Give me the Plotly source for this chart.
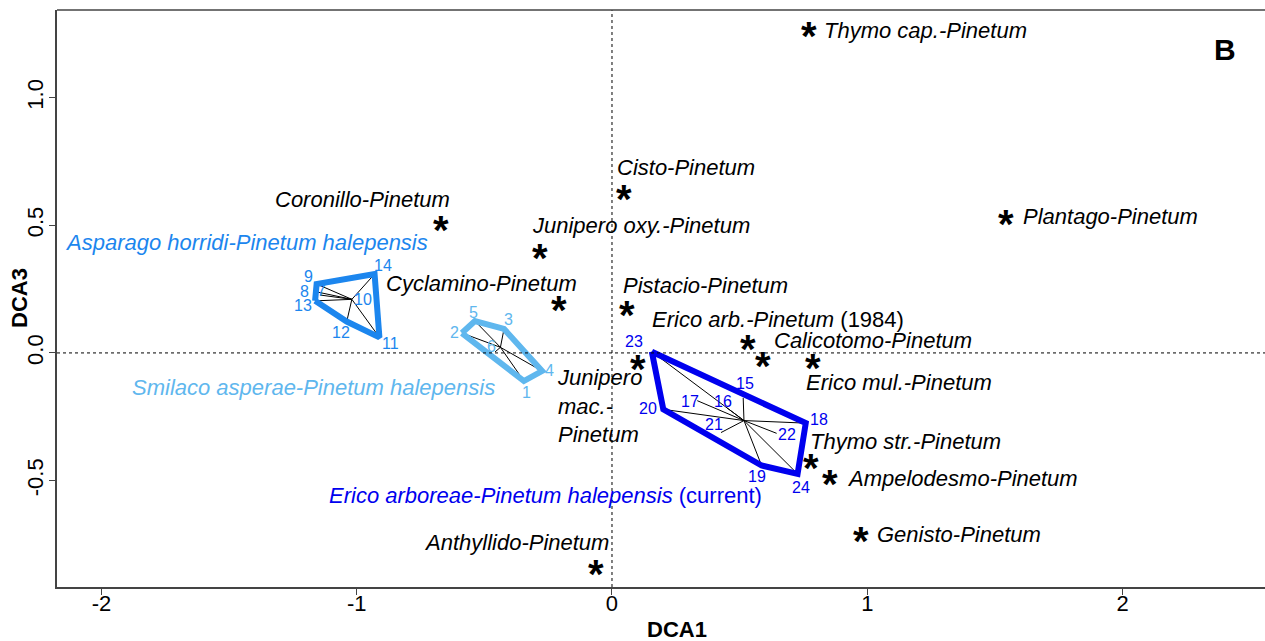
import plotly.graph_objects as go

FONT = "Liberation Sans, Arial, Helvetica, sans-serif"

# ---- published Pinus halepensis syntaxa (DCA1 / DCA3 scores) ----
syntaxa = [
    "Thymo cap.-Pinetum", "Plantago-Pinetum", "Coronillo-Pinetum",
    "Junipero oxy.-Pinetum", "Cisto-Pinetum", "Cyclamino-Pinetum",
    "Pistacio-Pinetum", "Erico arb.-Pinetum (1984)", "Calicotomo-Pinetum",
    "Erico mul.-Pinetum", "Junipero mac.-Pinetum", "Thymo str.-Pinetum",
    "Ampelodesmo-Pinetum", "Genisto-Pinetum", "Anthyllido-Pinetum",
]
syn_dca1 = [0.772, 1.543, -0.670, -0.282, 0.047, -0.208, 0.059, 0.533,
            0.591, 0.787, 0.102, 0.779, 0.854, 0.975, -0.063]
syn_dca3 = [1.265, 0.529, 0.505, 0.396, 0.627, 0.192, 0.172, 0.039,
            -0.027, -0.035, -0.039, -0.427, -0.490, -0.713, -0.842]

# ---- current relevés (DCA1 / DCA3 scores) and their association ----
plot_ids = list(range(1, 25))
plot_group = ["Smilaco"] * 6 + ["Asparago"] * 8 + ["Erico"] * 10
plot_dca1 = [-0.345, -0.588, -0.423, -0.274, -0.537, -0.458,
             -1.144, -1.156, -1.157, -1.020, -0.911, -1.039, -1.163, -0.930,
             0.514, 0.450, 0.334, 0.759, 0.586, 0.201, 0.427, 0.645, 0.156, 0.727]
plot_dca3 = [-0.110, 0.078, 0.094, -0.071, 0.125, 0.004,
             0.227, 0.239, 0.270, 0.210, 0.061, 0.123, 0.204, 0.309,
             -0.176, -0.215, -0.187, -0.275, -0.441, -0.221, -0.312, -0.315, 0.005, -0.474]

# weighted group centroids used for the spiders
groups = ["Asparago", "Smilaco", "Erico"]
centroid_dca1 = [-1.019, -0.437, 0.517]
centroid_dca3 = [0.210, 0.022, -0.265]

x_ticks = [-2, -1, 0, 1, 2]
y_ticks = [-0.5, 0.0, 0.5, 1.0]
y_tick_text = ["-0.5", "0.0", "0.5", "1.0"]

# ---- styling ----
group_color = {"Asparago": "#1C86EE", "Smilaco": "#5FB7EE", "Erico": "#0000EE"}
group_title = {
    "Asparago": "<i>Asparago horridi-Pinetum halepensis</i>",
    "Smilaco": "<i>Smilaco asperae-Pinetum halepensis</i>",
    "Erico": "<i>Erico arboreae-Pinetum halepensis</i> (current)",
}
# left end / middle of each association name, in axis units
group_title_pos = {"Asparago": (-2.150, 0.431), "Smilaco": (-1.888, -0.137),
                   "Erico": (-1.116, -0.560)}

# label placement for syntaxa: (xanchor, x shift px, y shift px)
syn_label_style = {
    "Thymo cap.-Pinetum": ("left", 13, 0),
    "Plantago-Pinetum": ("left", 15, 1),
    "Coronillo-Pinetum": ("right", 11, 25),
    "Junipero oxy.-Pinetum": ("left", -10, 26),
    "Cisto-Pinetum": ("left", -9, 25),
    "Cyclamino-Pinetum": ("right", 20, 20),
    "Pistacio-Pinetum": ("left", -6, 24),
    "Erico arb.-Pinetum (1984)": ("left", -98, 23),
    "Calicotomo-Pinetum": ("left", 9, 19),
    "Erico mul.-Pinetum": ("left", -9, -21),
    "Junipero mac.-Pinetum": ("left", -83, -43),
    "Thymo str.-Pinetum": ("left", -3, 20),
    "Ampelodesmo-Pinetum": ("left", 15, 0),
    "Genisto-Pinetum": ("left", 14, 0),
    "Anthyllido-Pinetum": ("right", 15, 25),
}
syn_label_text = {
    "Erico arb.-Pinetum (1984)": "<i>Erico arb.-Pinetum</i> (1984)",
    "Junipero mac.-Pinetum": "<i>Junipero<br>mac.-<br>Pinetum</i>",
}

# relevé number offsets (px, y up)
num_offset = {
    1: (3, -11), 2: (-7, 1), 3: (4, 9), 4: (7, 1), 5: (-1, 9), 6: (-4, 5),
    7: (2, 4), 8: (-12, 0), 9: (-8, 8), 10: (11, 0), 11: (11, -6),
    12: (-6, -11), 13: (-12, -5), 14: (8, 9),
    15: (2, 14), 16: (-4, 6), 17: (-7, -1), 18: (13, 4), 19: (-5, -11),
    20: (-15, 1), 21: (-7, 8), 22: (10, -1), 23: (-18, 10), 24: (3, -14),
}

X_RANGE = [-2.174, 2.558]
Y_RANGE = [-0.917, 1.3435]

# plot area in pixels (for paper-anchored texts)
W, H = 1265, 641
L, R, T, B = 57, 1265, 10, 587


def px_to_paper(px, py):
    return (px - L) / (R - L), 1 - (py - T) / (B - T)


def convex_hull(pts):
    pts = sorted(set(pts))
    if len(pts) < 3:
        return pts

    def cross(o, a, b):
        return (a[0] - o[0]) * (b[1] - o[1]) - (a[1] - o[1]) * (b[0] - o[0])

    lower, upper = [], []
    for p in pts:
        while len(lower) >= 2 and cross(lower[-2], lower[-1], p) <= 0:
            lower.pop()
        lower.append(p)
    for p in reversed(pts):
        while len(upper) >= 2 and cross(upper[-2], upper[-1], p) <= 0:
            upper.pop()
        upper.append(p)
    return lower[:-1] + upper[:-1]


fig = go.Figure()
annotations = []

for gi, g in enumerate(groups):
    idx = [i for i, pg in enumerate(plot_group) if pg == g]
    cx, cy = centroid_dca1[gi], centroid_dca3[gi]
    # spider
    sx, sy = [], []
    for i in idx:
        sx += [cx, plot_dca1[i], None]
        sy += [cy, plot_dca3[i], None]
    fig.add_trace(go.Scatter(x=sx, y=sy, mode="lines",
                             line=dict(color="black", width=1),
                             hoverinfo="skip", showlegend=False))
    # hull
    hull = convex_hull([(plot_dca1[i], plot_dca3[i]) for i in idx])
    hull.append(hull[0])
    fig.add_trace(go.Scatter(x=[p[0] for p in hull], y=[p[1] for p in hull],
                             mode="lines",
                             line=dict(color=group_color[g], width=6),
                             hoverinfo="skip", showlegend=False))
    # relevé numbers
    for i in idx:
        dx, dy = num_offset[plot_ids[i]]
        annotations.append(dict(
            x=plot_dca1[i], y=plot_dca3[i], text=str(plot_ids[i]),
            showarrow=False, xshift=dx, yshift=dy,
            xanchor="center", yanchor="middle",
            font=dict(family=FONT, size=16, color=group_color[g])))
    # association name
    tx, ty = group_title_pos[g]
    annotations.append(dict(
        x=tx, y=ty, text=group_title[g], showarrow=False,
        xanchor="left", yanchor="middle",
        font=dict(family=FONT, size=22, color=group_color[g])))

# syntaxa: asterisks and names
for name, sx_, sy_ in zip(syntaxa, syn_dca1, syn_dca3):
    annotations.append(dict(
        x=sx_, y=sy_, text="<b>*</b>", showarrow=False, yshift=-6,
        xanchor="center", yanchor="middle",
        font=dict(family=FONT, size=40, color="black")))
    anchor, dx, dy = syn_label_style[name]
    annotations.append(dict(
        x=sx_, y=sy_, text=syn_label_text.get(name, "<i>%s</i>" % name),
        showarrow=False, xanchor=anchor, yanchor="middle", align="left",
        xshift=dx, yshift=dy,
        font=dict(family=FONT, size=22, color="black")))

# panel letter and axis titles
bx, by = px_to_paper(1225, 50)
annotations.append(dict(x=bx, y=by, xref="paper", yref="paper", text="<b>B</b>",
                        showarrow=False, xanchor="center", yanchor="middle",
                        font=dict(family=FONT, size=30, color="black")))
ax_, ay_ = px_to_paper(677, 629)
annotations.append(dict(x=ax_, y=ay_, xref="paper", yref="paper", text="<b>DCA1</b>",
                        showarrow=False, xanchor="center", yanchor="middle",
                        font=dict(family=FONT, size=22, color="black")))
yx_, yy_ = px_to_paper(19, 298)
annotations.append(dict(x=yx_, y=yy_, xref="paper", yref="paper", text="<b>DCA3</b>",
                        showarrow=False, textangle=-90,
                        xanchor="center", yanchor="middle",
                        font=dict(family=FONT, size=22, color="black")))

# zero reference lines and top frame
shapes = [
    dict(type="line", xref="x", yref="paper", x0=0, x1=0, y0=0, y1=1,
         line=dict(color="black", width=1, dash="dot")),
    dict(type="line", xref="paper", yref="y", x0=0, x1=1, y0=0, y1=0,
         line=dict(color="black", width=1, dash="dot")),
    dict(type="line", xref="paper", yref="paper", x0=0, x1=1, y0=1, y1=1,
         line=dict(color="#444444", width=1.5)),
]

fig.update_layout(
    width=W, height=H,
    margin=dict(l=L, r=W - R, t=T, b=H - B),
    paper_bgcolor="white", plot_bgcolor="white",
    showlegend=False,
    annotations=annotations, shapes=shapes,
    xaxis=dict(range=X_RANGE, tickvals=x_ticks, ticktext=[str(v) for v in x_ticks],
               showgrid=False, zeroline=False, showline=True,
               linecolor="#444444", linewidth=1.5, ticks="outside", ticklen=6,
               tickcolor="#444444", ticklabelstandoff=-10,
               tickfont=dict(family=FONT, size=22, color="black")),
    yaxis=dict(range=Y_RANGE, tickvals=y_ticks, ticktext=y_tick_text,
               showgrid=False, zeroline=False, showline=True,
               linecolor="#444444", linewidth=1.5, ticks="outside", ticklen=6,
               tickcolor="#444444", tickangle=-90, ticklabelstandoff=-3,
               tickfont=dict(family=FONT, size=22, color="black")),
)

fig.write_html("out.html")
